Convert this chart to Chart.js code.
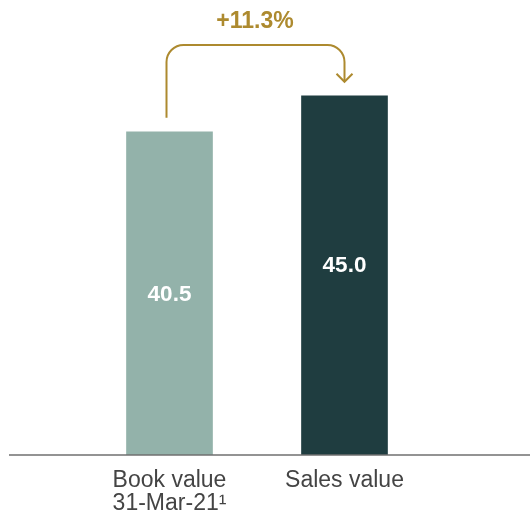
<!DOCTYPE html>
<html>
<head>
<meta charset="utf-8">
<script src="https://cdn.jsdelivr.net/npm/chart.js@4"></script>
<style>
  html, body { margin: 0; padding: 0; background: #ffffff; }
  #wrap { width: 530px; height: 517px; position: relative; }
</style>
</head>
<body>
<div id="wrap"><canvas id="chart"></canvas></div>
<script>
// Values shown on the bars
const categories = [['Book value', '31-Mar-21\u00B9'], 'Sales value'];
const values = [40.5, 45.0];
const valueLabels = ['40.5', '45.0'];
const changeLabel = '+11.3%';

const barColors = ['#93b2aa', '#1f3d40'];
const gold = '#ad8a2f';
const font = '"Liberation Sans", Arial, Helvetica, sans-serif';

// Full-width baseline, value labels inside bars and the growth arrow
const overlay = {
  id: 'overlay',
  afterDatasetsDraw(chart) {
    const ctx = chart.ctx;
    const y = chart.scales.y;
    const meta = chart.getDatasetMeta(0);
    const base = y.getPixelForValue(0);

    ctx.save();
    ctx.strokeStyle = '#6f6f6f';
    ctx.lineWidth = 1.5;
    ctx.beginPath();
    ctx.moveTo(9, base);
    ctx.lineTo(530, base);
    ctx.stroke();

    // values inside bars
    const fractions = [0.5, 0.53];
    ctx.fillStyle = '#ffffff';
    ctx.font = 'bold 22.5px ' + font;
    ctx.textAlign = 'center';
    ctx.textBaseline = 'middle';
    meta.data.forEach((bar, i) => {
      const ty = base - (base - bar.y) * fractions[i];
      ctx.fillText(valueLabels[i], bar.x, ty + 1);
    });

    // growth arrow
    const b1 = meta.data[0], b2 = meta.data[1];
    const x1 = b1.x - 3, x2 = b2.x;
    const topY = 45, r = 17;
    const startY = b1.y - 14, endY = b2.y - 14;
    ctx.strokeStyle = gold;
    ctx.lineWidth = 2;
    ctx.lineJoin = 'miter';
    ctx.beginPath();
    ctx.moveTo(x1, startY);
    ctx.lineTo(x1, topY + r);
    ctx.arcTo(x1, topY, x1 + r, topY, r);
    ctx.lineTo(x2 - r, topY);
    ctx.arcTo(x2, topY, x2, topY + r, r);
    ctx.lineTo(x2, endY);
    ctx.stroke();
    ctx.beginPath();
    ctx.moveTo(x2 - 8, endY - 8);
    ctx.lineTo(x2, endY);
    ctx.lineTo(x2 + 8, endY - 8);
    ctx.stroke();

    ctx.fillStyle = gold;
    ctx.font = 'bold 23px ' + font;
    ctx.fillText(changeLabel, (x1 + x2) / 2 - 0.5, 22);
    ctx.restore();
  }
};

new Chart(document.getElementById('chart'), {
  type: 'bar',
  data: {
    labels: categories,
    datasets: [{
      data: values,
      backgroundColor: barColors,
      borderWidth: 0,
      barThickness: 86
    }]
  },
  options: {
    responsive: true,
    maintainAspectRatio: false,
    animation: false,
    devicePixelRatio: 1,
    layout: { padding: { left: 82, right: 98, top: 8, bottom: 0 } },
    plugins: { legend: { display: false }, tooltip: { enabled: false } },
    scales: {
      x: {
        grid: { display: false, drawTicks: false },
        border: { display: false },
        ticks: {
          color: '#444444',
          padding: 14,
          font: { family: font, size: 23, lineHeight: 1.0 }
        },
        afterFit(scale) { scale.height = 62; }
      },
      y: {
        display: false,
        min: 0,
        max: 56
      }
    }
  },
  plugins: [overlay]
});
</script>
</body>
</html>
